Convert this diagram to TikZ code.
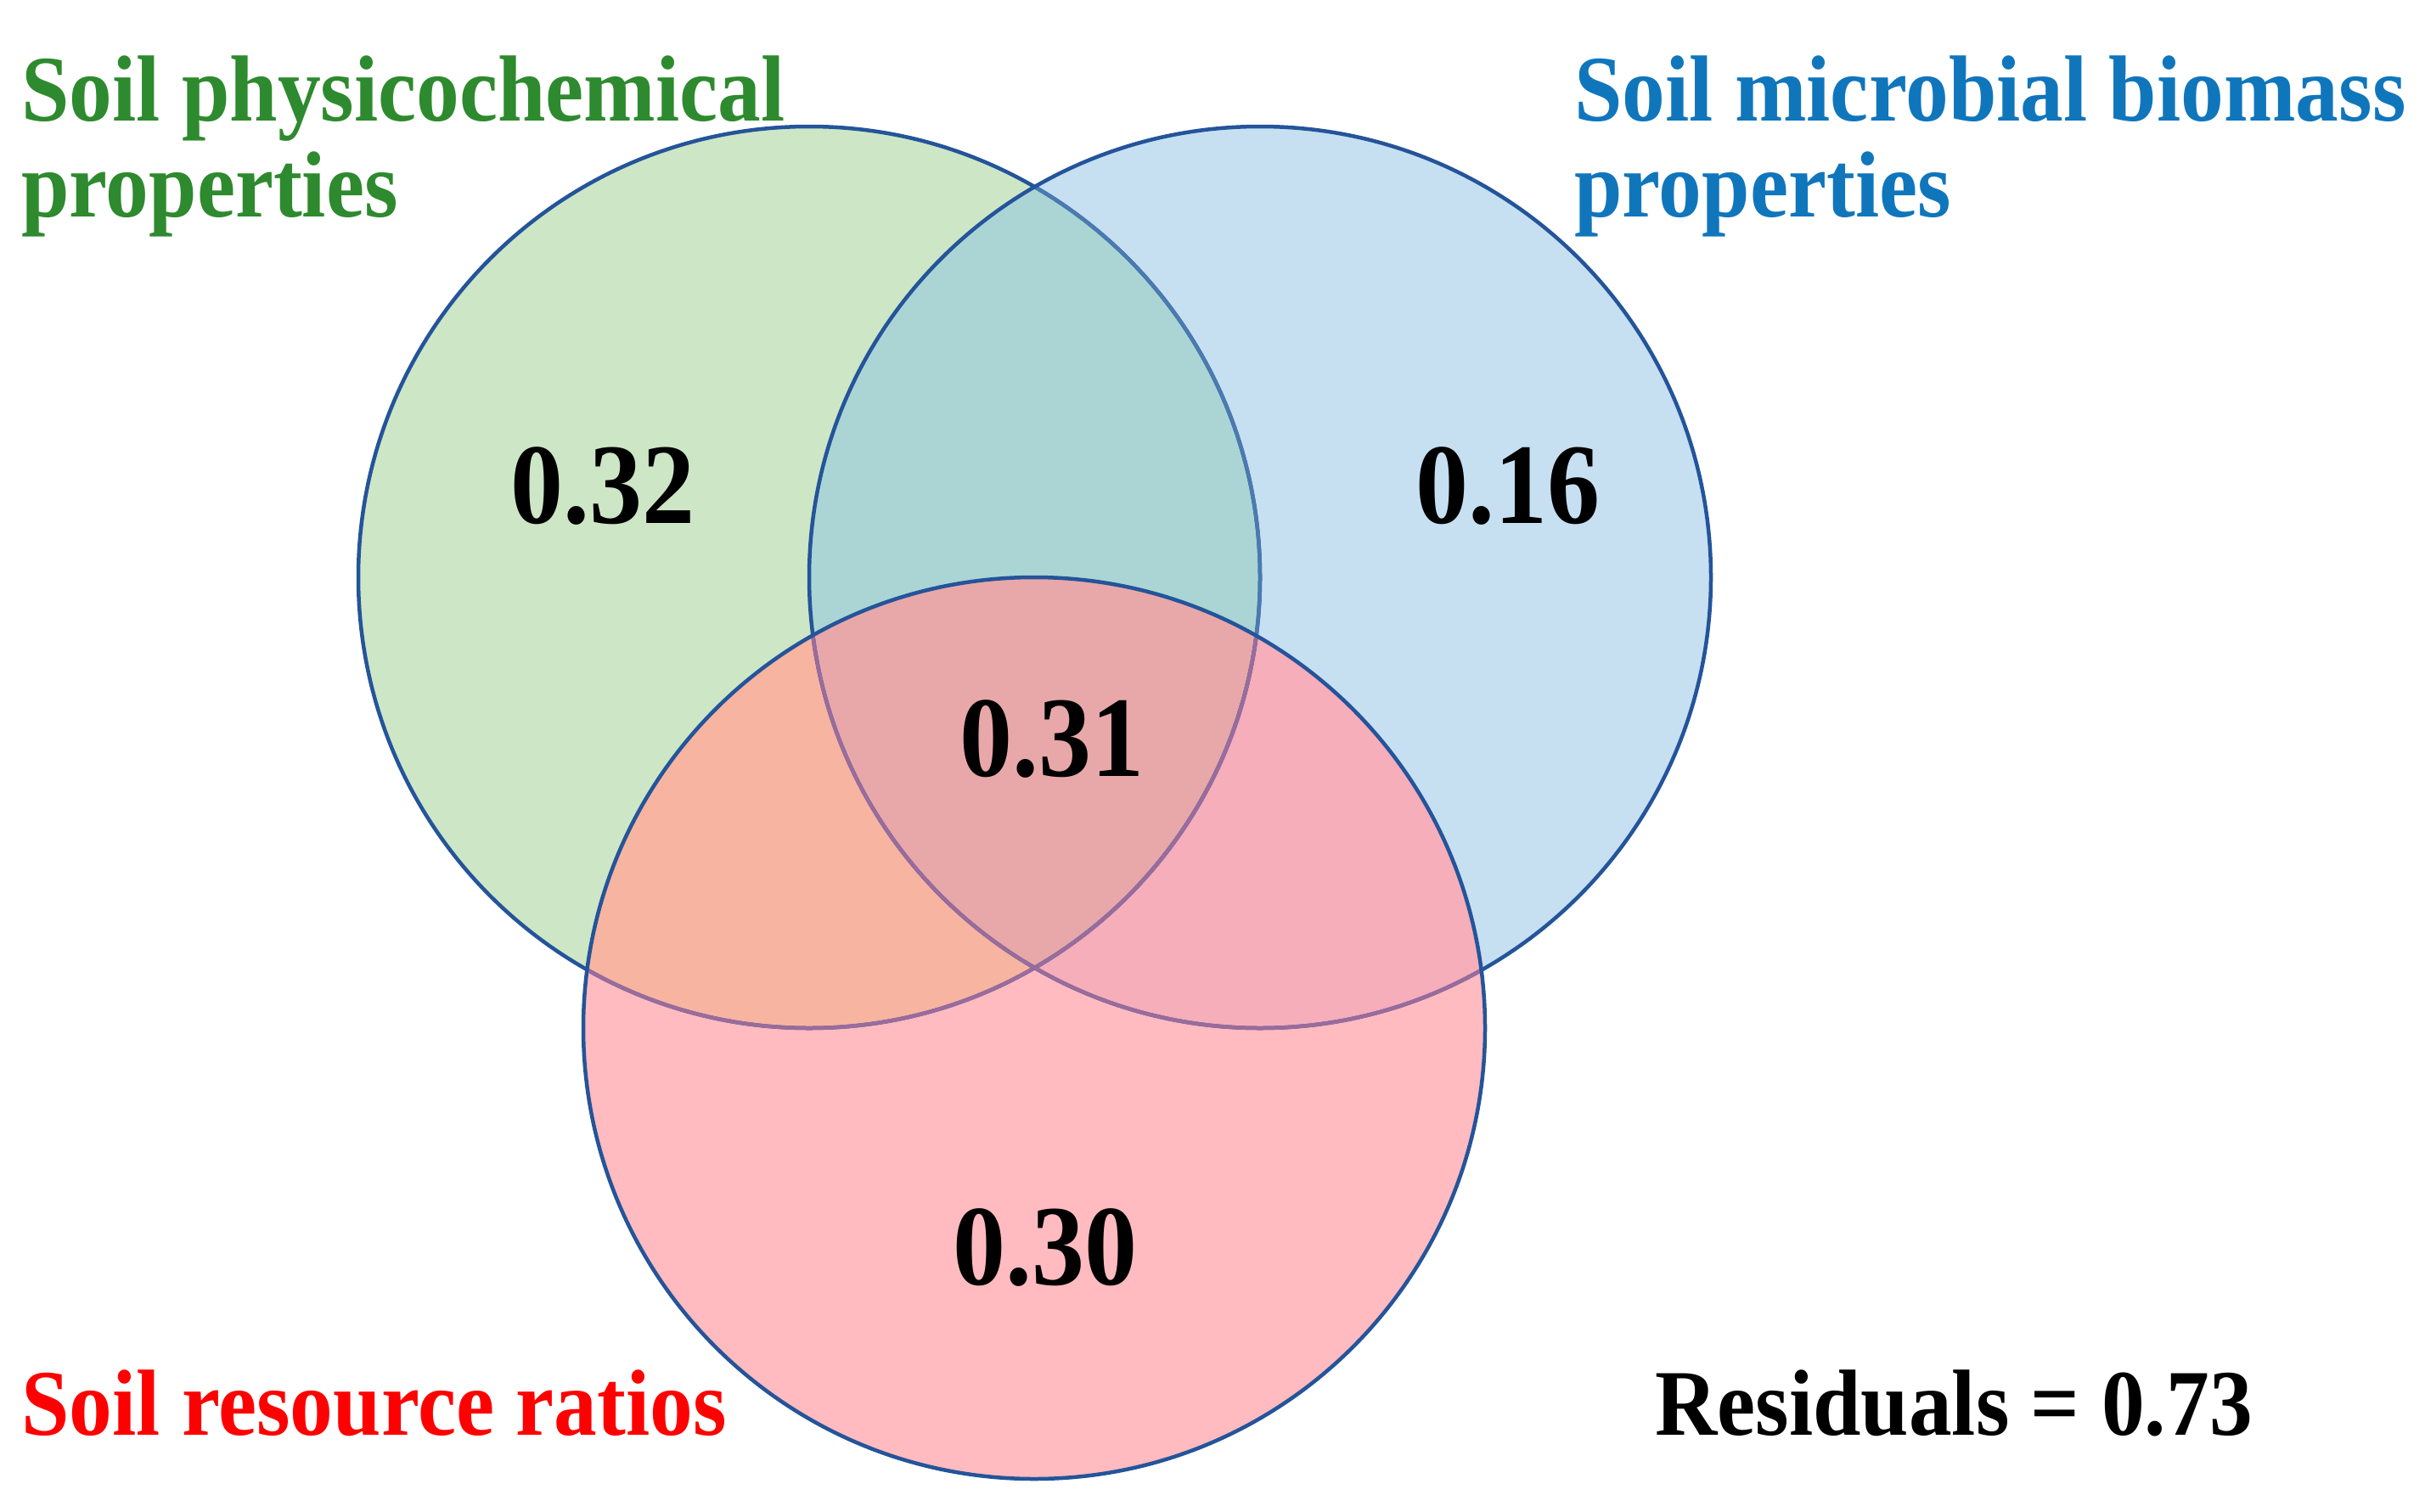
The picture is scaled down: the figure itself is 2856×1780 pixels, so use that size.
\documentclass[tikz,border=0pt]{standalone}
\usepackage{fontspec}
\setmainfont{Liberation Serif}
\definecolor{fillG}{HTML}{CDE6C6}
\definecolor{fillB}{HTML}{C6E0F2}
\definecolor{fillR}{HTML}{FFBBBF}
\definecolor{fillGB}{HTML}{ABD5D4}
\definecolor{fillGR}{HTML}{F7B4A0}
\definecolor{fillBR}{HTML}{F5AEBA}
\definecolor{fillGBR}{HTML}{E8A8A9}
\definecolor{edgeC}{HTML}{24549A}
\definecolor{edgeUnderB}{HTML}{4A7AB0}
\definecolor{edgeUnderR}{HTML}{9A6B9C}
\definecolor{txtG}{HTML}{2E8A2E}
\definecolor{txtB}{HTML}{1076BC}
\definecolor{txtR}{HTML}{FF0000}
\newcommand{\vstretch}[1]{\scalebox{1}[1.09]{#1}}
\tikzset{
  outl/.style={draw=edgeC, line width=4.5pt},
  outlB/.style={draw=edgeUnderB, line width=4.5pt},
  outlR/.style={draw=edgeUnderR, line width=4.5pt},
  lbl/.style={inner sep=0pt, anchor=base west, font=\fontsize{101.5}{113}\selectfont\bfseries},
  num/.style={inner sep=0pt, anchor=base, font=\fontsize{124}{130}\selectfont\bfseries, text=black}
}
\begin{document}
\begin{tikzpicture}[x=1pt,y=-1pt]
\useasboundingbox (0,0) rectangle (2856,1780);
\fill[white] (0,0) rectangle (2856,1780);
\coordinate (cG) at (953,680);
\coordinate (cB) at (1484,680);
\coordinate (cR) at (1218,1211);
\def\rad{531pt}
% base fills
\fill[fillG] (cG) circle[radius=\rad];
\fill[fillB] (cB) circle[radius=\rad];
\fill[fillR] (cR) circle[radius=\rad];
% pairwise overlaps
\begin{scope}\clip (cG) circle[radius=\rad]; \fill[fillGB] (cB) circle[radius=\rad];\end{scope}
\begin{scope}\clip (cG) circle[radius=\rad]; \fill[fillGR] (cR) circle[radius=\rad];\end{scope}
\begin{scope}\clip (cB) circle[radius=\rad]; \fill[fillBR] (cR) circle[radius=\rad];\end{scope}
\begin{scope}\clip (cG) circle[radius=\rad]; \clip (cB) circle[radius=\rad]; \fill[fillGBR] (cR) circle[radius=\rad];\end{scope}
% outlines
\draw[outl] (cG) circle[radius=\rad];
\begin{scope}\clip (cB) circle[radius=\rad]; \draw[outlB] (cG) circle[radius=\rad];\end{scope}
\begin{scope}\clip (cR) circle[radius=\rad]; \draw[outlR] (cG) circle[radius=\rad];\end{scope}
\draw[outl] (cB) circle[radius=\rad];
\begin{scope}\clip (cR) circle[radius=\rad]; \draw[outlR] (cB) circle[radius=\rad];\end{scope}
\draw[outl] (cR) circle[radius=\rad];
% labels
\node[lbl, text=txtG] (lg1) at (25,142) {\vstretch{Soil physicochemical}};
\node[lbl, text=txtG] (lg2) at (25,255) {\vstretch{properties}};
\node[lbl, text=txtB] (lb1) at (1854,142) {\vstretch{Soil microbial biomass}};
\node[lbl, text=txtB] (lb2) at (1854,255) {\vstretch{properties}};
\node[lbl, text=txtR] (lr) at (25,1690) {\vstretch{Soil resource ratios}};
\node[lbl, text=black] (res) at (1949,1690) {\vstretch{Residuals = 0.73}};
% numbers
\node[num] (nG) at (710,616) {\vstretch{0.32}};
\node[num] (nB) at (1776,616) {\vstretch{0.16}};
\node[num] (nGBR) at (1239,914) {\vstretch{0.31}};
\node[num] (nR) at (1231,1513) {\vstretch{0.30}};
\end{tikzpicture}
\end{document}
